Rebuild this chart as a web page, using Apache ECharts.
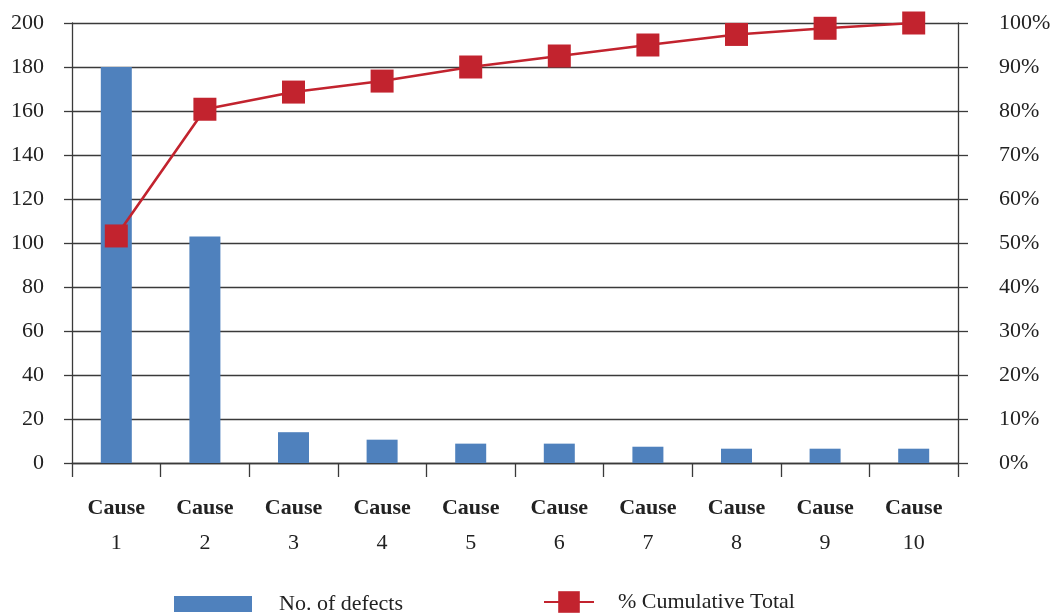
<!DOCTYPE html>
<html>
<head>
<meta charset="utf-8">
<title>Pareto chart of defect causes</title>
<script src="https://cdn.jsdelivr.net/npm/echarts@6/dist/echarts.min.js"></script>
<style>
  html, body { margin: 0; padding: 0; background: #fff; }
  #chart { width: 1054px; height: 613px; }
</style>
</head>
<body>
<div id="chart"></div>
<script>
// Defect causes and their counts, with the running cumulative share
const causeNumbers = ['1', '2', '3', '4', '5', '6', '7', '8', '9', '10'];
const defectCounts = [180, 103, 14, 10.6, 8.8, 8.8, 7.4, 6.5, 6.5, 6.5];
const cumulativePercent = [51.6, 80.4, 84.3, 86.8, 90.0, 92.5, 95.0, 97.4, 98.8, 100];
const countTicks = { min: 0, max: 200, step: 20 };
const percentTicks = { min: 0, max: 100, step: 10 };

const SERIF = '"Liberation Serif", "Times New Roman", serif';
const INK = '#222222';
const RULE = '#3a3a3a';
const BAR_BLUE = '#4F81BD';
const LINE_RED = '#C2232E';

const chart = echarts.init(document.getElementById('chart'), null, { renderer: 'canvas' });

chart.setOption({
  backgroundColor: '#ffffff',
  animation: false,
  grid: { left: 72, right: 96, top: 23, height: 440, containLabel: false },
  legend: [
    {
      data: [{ name: 'No. of defects', icon: 'rect' }],
      left: 174, top: 593, padding: 0,
      itemWidth: 78, itemHeight: 16,
      textStyle: { fontFamily: SERIF, fontSize: 22, color: INK, padding: [0, 0, 0, 22] }
    },
    {
      data: ['% Cumulative Total'],
      left: 543, top: 591, padding: 0,
      itemWidth: 50, itemHeight: 27,
      textStyle: { fontFamily: SERIF, fontSize: 22, color: INK, padding: [0, 0, 0, 19] }
    }
  ],
  xAxis: {
    type: 'category',
    data: causeNumbers,
    boundaryGap: true,
    axisLine: { show: true, lineStyle: { color: RULE, width: 1.3 } },
    axisTick: { show: true, interval: 0, length: 14, alignWithLabel: false, lineStyle: { color: RULE, width: 1.3 } },
    axisLabel: {
      interval: 0,
      margin: 28,
      formatter: function (v) { return '{c|Cause}\n{n|' + v + '}'; },
      rich: {
        c: { fontFamily: SERIF, fontSize: 22, fontWeight: 'bold', color: INK, lineHeight: 35 },
        n: { fontFamily: SERIF, fontSize: 22, color: INK, lineHeight: 35 }
      }
    },
    splitLine: { show: false }
  },
  yAxis: [
    {
      type: 'value',
      position: 'left',
      min: countTicks.min, max: countTicks.max, interval: countTicks.step,
      axisLine: { show: true, lineStyle: { color: RULE, width: 1.3 } },
      axisTick: { show: true, length: 8, inside: false, lineStyle: { color: RULE, width: 1.3 } },
      axisLabel: { margin: 28, fontFamily: SERIF, fontSize: 22, color: INK },
      splitLine: { show: true, lineStyle: { color: RULE, width: 1.3 } }
    },
    {
      type: 'value',
      position: 'right',
      min: percentTicks.min, max: percentTicks.max, interval: percentTicks.step,
      axisLine: { show: true, lineStyle: { color: RULE, width: 1.3 } },
      axisTick: { show: true, length: 10, inside: false, lineStyle: { color: RULE, width: 1.3 } },
      axisLabel: { margin: 41, fontFamily: SERIF, fontSize: 22, color: INK, formatter: '{value}%' },
      splitLine: { show: false }
    }
  ],
  series: [
    {
      name: 'No. of defects',
      type: 'bar',
      yAxisIndex: 0,
      data: defectCounts,
      barWidth: 31,
      itemStyle: { color: BAR_BLUE },
      z: 2
    },
    {
      name: '% Cumulative Total',
      type: 'line',
      yAxisIndex: 1,
      data: cumulativePercent,
      symbol: 'rect',
      symbolSize: 23,
      showAllSymbol: true,
      lineStyle: { color: LINE_RED, width: 2.6 },
      itemStyle: { color: LINE_RED },
      z: 3
    }
  ]
});
</script>
</body>
</html>
